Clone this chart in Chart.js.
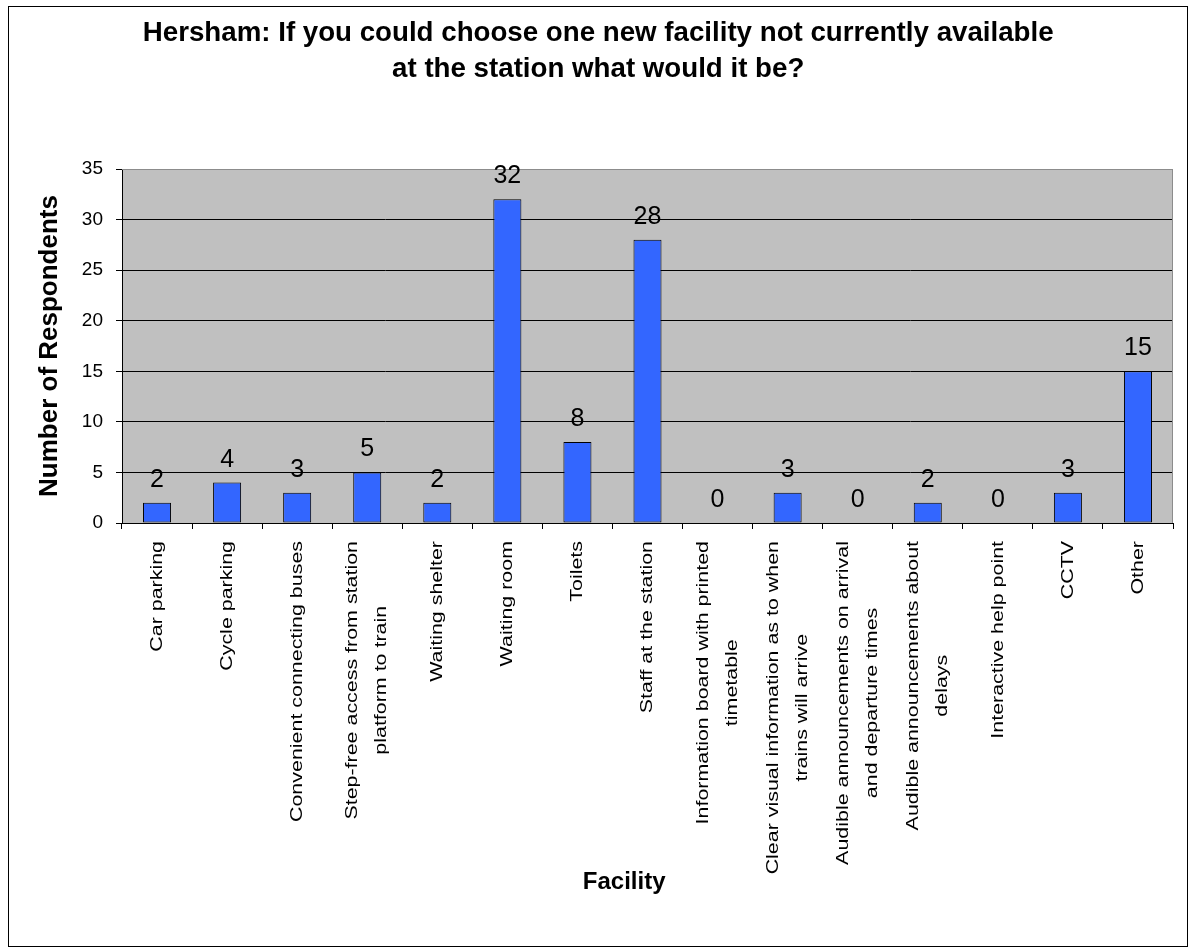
<!DOCTYPE html>
<html>
<head>
<meta charset="utf-8">
<title>Hersham station facilities</title>
<script src="https://cdn.jsdelivr.net/npm/chart.js@4.4.0/dist/chart.umd.min.js"></script>
<style>
  body { margin: 0; background: #fff; }
</style>
</head>
<body>
<canvas id="chart" width="1194" height="947"></canvas>
<script>
const facilities = [
  'Car parking',
  'Cycle parking',
  'Convenient connecting buses',
  ['Step-free access from station', 'platform to train'],
  'Waiting shelter',
  'Waiting room',
  'Toilets',
  'Staff at the station',
  ['Information board with printed', 'timetable'],
  ['Clear visual information as to when', 'trains will arrive'],
  ['Audible announcements on arrival', 'and departure times'],
  ['Audible announcements about', 'delays'],
  'Interactive help point',
  'CCTV',
  'Other'
];
const respondents = [2, 4, 3, 5, 2, 32, 8, 28, 0, 3, 0, 2, 0, 3, 15];
const yTickValues = [0, 5, 10, 15, 20, 25, 30, 35];

const FONT = "'Liberation Sans', Arial, sans-serif";

// the original's category labels are wide and centred line by line,
// so they're drawn here at the x scale's own tick positions
const categoryLabels = {
  id: 'categoryLabels',
  afterDraw(chart) {
    const { ctx } = chart;
    const xs = chart.scales.x;
    const top = xs.top + 18;
    const lineGap = 29;
    const stretch = 1.26;
    ctx.save();
    ctx.fillStyle = '#000';
    ctx.font = '17px ' + FONT;
    ctx.textAlign = 'center';
    ctx.textBaseline = 'middle';
    facilities.forEach((label, i) => {
      const lines = Array.isArray(label) ? label : [label];
      const maxW = Math.max(...lines.map(s => ctx.measureText(s).width));
      const cx = xs.getPixelForTick(i);
      lines.forEach((line, j) => {
        const x = cx + (j - (lines.length - 1) / 2) * lineGap;
        ctx.save();
        ctx.translate(x, top);
        ctx.rotate(-Math.PI / 2);
        ctx.scale(stretch, 1);
        ctx.fillText(line, -maxW / 2, 0);
        ctx.restore();
      });
    });
    ctx.restore();
  }
};

const plotFrame = {
  id: 'plotFrame',
  beforeDraw(chart) {
    const { ctx, chartArea: a } = chart;
    ctx.save();
    ctx.fillStyle = '#fff';
    ctx.fillRect(0, 0, chart.width, chart.height);
    ctx.fillStyle = '#C0C0C0';
    ctx.fillRect(a.left, a.top, a.right - a.left, a.bottom - a.top);
    ctx.strokeStyle = '#000';
    ctx.lineWidth = 1;
    ctx.strokeRect(8.5, 6.5, 1179, 940);
    ctx.restore();
  },
  beforeDatasetsDraw(chart) {
    const { ctx, chartArea: a } = chart;
    ctx.save();
    ctx.strokeStyle = '#8c8c8c';
    ctx.lineWidth = 1;
    ctx.beginPath();
    ctx.moveTo(Math.round(a.right) - 0.5, a.bottom);
    ctx.lineTo(Math.round(a.right) - 0.5, Math.round(a.top) + 0.5);
    ctx.lineTo(a.left, Math.round(a.top) + 0.5);
    ctx.stroke();
    ctx.restore();
  },
  afterDatasetsDraw(chart) {
    const { ctx } = chart;
    const meta = chart.getDatasetMeta(0);
    ctx.save();
    ctx.fillStyle = '#000';
    ctx.font = '25px ' + FONT;
    ctx.textAlign = 'center';
    ctx.textBaseline = 'alphabetic';
    meta.data.forEach((bar, i) => {
      ctx.fillText(String(respondents[i]), bar.x, bar.y - 16);
    });
    ctx.restore();
  }
};

new Chart(document.getElementById('chart'), {
  type: 'bar',
  data: {
    labels: facilities,
    datasets: [{
      label: 'Number of Respondents',
      data: respondents,
      backgroundColor: '#3366FF',
      borderColor: '#000',
      borderWidth: 1,
      borderSkipped: false,
      barPercentage: 0.4,
      categoryPercentage: 1
    }]
  },
  options: {
    responsive: false,
    animation: false,
    layout: { padding: { left: 8, right: 21, top: 0, bottom: 8 } },
    plugins: {
      legend: { display: false },
      tooltip: { enabled: false },
      title: {
        display: true,
        // leading spaces offset the uneven side padding
        text: ['  Hersham: If you could choose one new facility not currently available', '  at the station what would it be?'],
        color: '#000',
        font: { family: FONT, size: 27.7, weight: 'bold', lineHeight: 1.3 },
        padding: { top: 15, bottom: 82 }
      }
    },
    scales: {
      x: {
        afterFit(scale) { scale.height = 416; },
        grid: {
          offset: true,
          drawOnChartArea: false,
          color: '#000',
          tickLength: 6
        },
        border: { color: '#000', width: 1 },
        ticks: { display: false, autoSkip: false },
        title: {
          display: true,
          // trailing spaces nudge it left like the original
          text: 'Facility       ',
          color: '#000',
          font: { family: FONT, size: 24, weight: 'bold' },
          padding: { top: 0, bottom: 42 }
        }
      },
      y: {
        min: 0,
        max: 35,
        afterFit(scale) { scale.width = 114; },
        afterBuildTicks(scale) { scale.ticks = yTickValues.map(v => ({ value: v })); },
        grid: {
          color: ctx => (ctx.tick && ctx.tick.value === 35 ? '#8c8c8c' : '#000'),
          tickColor: '#000',
          tickLength: 6
        },
        border: { color: '#000', width: 1 },
        ticks: {
          padding: 13,
          color: '#000',
          font: { family: FONT, size: 19 }
        },
        title: {
          display: true,
          text: 'Number of Respondents',
          color: '#000',
          font: { family: FONT, size: 26, weight: 'bold' },
          padding: { top: 26 }
        }
      }
    }
  },
  plugins: [plotFrame, categoryLabels]
});
</script>
</body>
</html>
